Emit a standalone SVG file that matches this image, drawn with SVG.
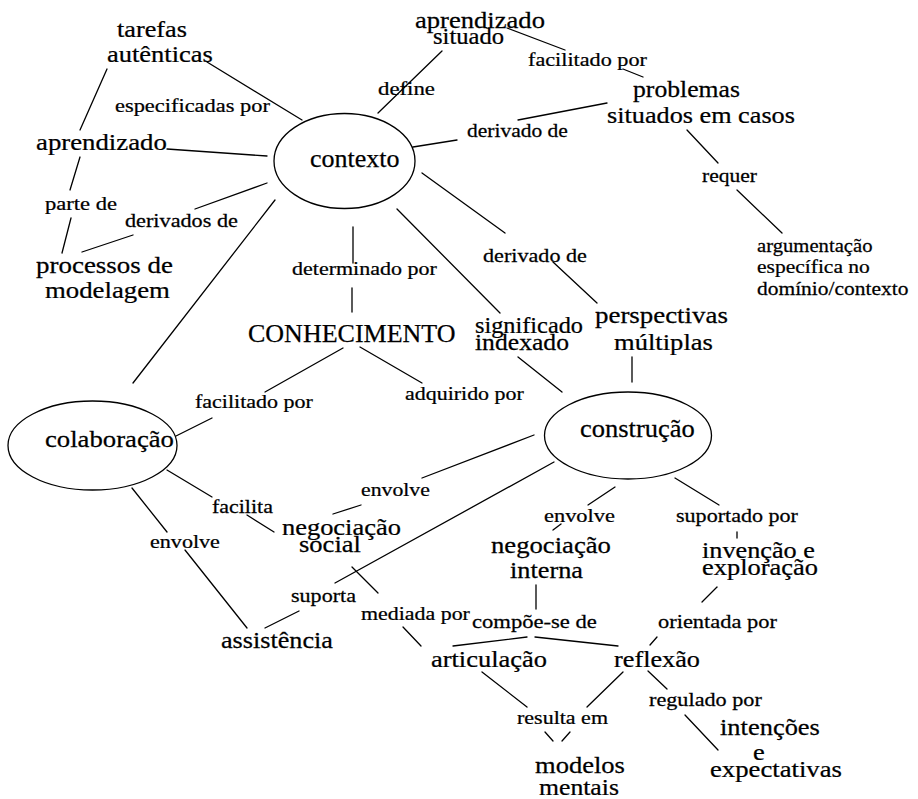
<svg xmlns="http://www.w3.org/2000/svg" width="918" height="799" viewBox="0 0 918 799">
<style>
.c line { stroke: #000; stroke-width: 1.3; stroke-linecap: round; }
ellipse { fill: none; stroke: #000; stroke-width: 1.3; }
text { fill: #000; stroke: #000; stroke-width: 0.25; }
</style>
<rect width="918" height="799" fill="#fff"/>
<g id="connectors" class="c">
<line x1="207" y1="62" x2="302" y2="120"/>
<line x1="107" y1="69" x2="80" y2="130"/>
<line x1="80" y1="157" x2="70" y2="190"/>
<line x1="71" y1="218" x2="62" y2="253"/>
<line x1="167" y1="149" x2="267" y2="156"/>
<line x1="267" y1="183" x2="195" y2="209"/>
<line x1="133" y1="235" x2="82" y2="252"/>
<line x1="275" y1="200" x2="133" y2="383"/>
<line x1="507" y1="28" x2="565" y2="50"/>
<line x1="623" y1="69" x2="643" y2="77"/>
<line x1="442" y1="51" x2="378" y2="113"/>
<line x1="413" y1="147" x2="457" y2="140"/>
<line x1="518" y1="120" x2="607" y2="103"/>
<line x1="422" y1="173" x2="505" y2="233"/>
<line x1="553" y1="262" x2="597" y2="303"/>
<line x1="397" y1="209" x2="500" y2="313"/>
<line x1="353" y1="227" x2="353" y2="263"/>
<line x1="352" y1="288" x2="352" y2="312"/>
<line x1="687" y1="130" x2="718" y2="163"/>
<line x1="737" y1="190" x2="782" y2="233"/>
<line x1="343" y1="348" x2="265" y2="392"/>
<line x1="212" y1="418" x2="176" y2="436"/>
<line x1="167" y1="470" x2="212" y2="497"/>
<line x1="132" y1="488" x2="167" y2="532"/>
<line x1="247" y1="515" x2="274" y2="532"/>
<line x1="185" y1="550" x2="247" y2="628"/>
<line x1="360" y1="347" x2="422" y2="383"/>
<line x1="518" y1="357" x2="562" y2="392"/>
<line x1="534" y1="435" x2="422" y2="478"/>
<line x1="361" y1="505" x2="333" y2="514"/>
<line x1="554" y1="462" x2="335" y2="583"/>
<line x1="299" y1="611" x2="265" y2="628"/>
<line x1="352" y1="567" x2="378" y2="593"/>
<line x1="403" y1="627" x2="421" y2="646"/>
<line x1="632" y1="357" x2="632" y2="382"/>
<line x1="615" y1="487" x2="588" y2="505"/>
<line x1="561" y1="524" x2="553" y2="530"/>
<line x1="675" y1="478" x2="719" y2="505"/>
<line x1="737" y1="532" x2="737" y2="538"/>
<line x1="717" y1="587" x2="702" y2="602"/>
<line x1="657" y1="637" x2="650" y2="645"/>
<line x1="536" y1="585" x2="536" y2="609"/>
<line x1="527" y1="637" x2="453" y2="646"/>
<line x1="535" y1="637" x2="618" y2="646"/>
<line x1="482" y1="672" x2="527" y2="707"/>
<line x1="623" y1="672" x2="587" y2="707"/>
<line x1="545" y1="732" x2="553" y2="741"/>
<line x1="570" y1="732" x2="562" y2="741"/>
<line x1="648" y1="671" x2="667" y2="689"/>
<line x1="685" y1="715" x2="718" y2="750"/>
</g>
<g id="labels">
<text font-family="Liberation Serif" font-size="19" transform="translate(115 112) scale(1.18 1)">especificadas por</text>
<text font-family="Liberation Serif" font-size="19" transform="translate(45 210) scale(1.187 1)">parte de</text>
<text font-family="Liberation Serif" font-size="19" transform="translate(125 227) scale(1.17 1)">derivados de</text>
<text font-family="Liberation Serif" font-size="19" transform="translate(378 95) scale(1.2 1)">define</text>
<text font-family="Liberation Serif" font-size="19" transform="translate(528 66) scale(1.169 1)">facilitado por</text>
<text font-family="Liberation Serif" font-size="19" transform="translate(467 137) scale(1.132 1)">derivado de</text>
<text font-family="Liberation Serif" font-size="19" transform="translate(702 182) scale(1.134 1)">requer</text>
<text font-family="Liberation Serif" font-size="19" transform="translate(483 262) scale(1.166 1)">derivado de</text>
<text font-family="Liberation Serif" font-size="19" transform="translate(292 275) scale(1.159 1)">determinado por</text>
<text font-family="Liberation Serif" font-size="19" transform="translate(195 408) scale(1.159 1)">facilitado por</text>
<text font-family="Liberation Serif" font-size="19" transform="translate(405 400) scale(1.156 1)">adquirido por</text>
<text font-family="Liberation Serif" font-size="19" transform="translate(212 513) scale(1.155 1)">facilita</text>
<text font-family="Liberation Serif" font-size="19" transform="translate(150 548) scale(1.163 1)">envolve</text>
<text font-family="Liberation Serif" font-size="19" transform="translate(361 496) scale(1.146 1)">envolve</text>
<text font-family="Liberation Serif" font-size="19" transform="translate(544 522) scale(1.18 1)">envolve</text>
<text font-family="Liberation Serif" font-size="19" transform="translate(676 522) scale(1.162 1)">suportado por</text>
<text font-family="Liberation Serif" font-size="19" transform="translate(291 602) scale(1.162 1)">suporta</text>
<text font-family="Liberation Serif" font-size="19" transform="translate(361 620) scale(1.154 1)">mediada por</text>
<text font-family="Liberation Serif" font-size="19" transform="translate(472 628) scale(1.19 1)">compõe-se de</text>
<text font-family="Liberation Serif" font-size="19" transform="translate(658 628) scale(1.181 1)">orientada por</text>
<text font-family="Liberation Serif" font-size="19" transform="translate(517 724) scale(1.158 1)">resulta em</text>
<text font-family="Liberation Serif" font-size="19" transform="translate(649 706) scale(1.17 1)">regulado por</text>
</g>
<g id="tarefas-autenticas">
<text font-family="Liberation Serif" font-size="23" transform="translate(117 37) scale(1.142 1)">tarefas</text>
<text font-family="Liberation Serif" font-size="23" transform="translate(107 62) scale(1.152 1)">autênticas</text>
</g>
<g id="aprendizado">
<text font-family="Liberation Serif" font-size="23" transform="translate(36 150) scale(1.165 1)">aprendizado</text>
</g>
<g id="processos-de-modelagem">
<text font-family="Liberation Serif" font-size="23" transform="translate(36 273) scale(1.172 1)">processos de</text>
<text font-family="Liberation Serif" font-size="23" transform="translate(45 298) scale(1.165 1)">modelagem</text>
</g>
<g id="contexto">
<ellipse cx="344.5" cy="161" rx="70.5" ry="47.5"/>
<text font-family="Liberation Serif" font-size="26" x="310" y="167">contexto</text>
</g>
<g id="aprendizado-situado">
<text font-family="Liberation Serif" font-size="23" transform="translate(415 28) scale(1.157 1)">aprendizado</text>
<text font-family="Liberation Serif" font-size="23" transform="translate(433 44) scale(1.069 1)">situado</text>
</g>
<g id="problemas-situados">
<text font-family="Liberation Serif" font-size="23" transform="translate(633 97) scale(1.117 1)">problemas</text>
<text font-family="Liberation Serif" font-size="23" transform="translate(607 123) scale(1.141 1)">situados em casos</text>
</g>
<g id="argumentacao">
<text font-family="Liberation Serif" font-size="19" transform="translate(757 252) scale(1.088 1)">argumentação</text>
<text font-family="Liberation Serif" font-size="19" transform="translate(757 273) scale(1.133 1)">específica no</text>
<text font-family="Liberation Serif" font-size="19" transform="translate(757 295) scale(1.13 1)">domínio/contexto</text>
</g>
<g id="conhecimento">
<text font-family="Liberation Serif" font-size="26" x="248" y="342">CONHECIMENTO</text>
</g>
<g id="significado-indexado">
<text font-family="Liberation Serif" font-size="23" transform="translate(475 333) scale(1.057 1)">significado</text>
<text font-family="Liberation Serif" font-size="23" transform="translate(475 350) scale(1.115 1)">indexado</text>
</g>
<g id="perspectivas-multiplas">
<text font-family="Liberation Serif" font-size="23" transform="translate(595 323) scale(1.17 1)">perspectivas</text>
<text font-family="Liberation Serif" font-size="23" transform="translate(614 350) scale(1.156 1)">múltiplas</text>
</g>
<g id="colaboracao">
<ellipse cx="92.5" cy="445.5" rx="84.5" ry="44.5"/>
<text font-family="Liberation Serif" font-size="24" transform="translate(45 447) scale(1.113 1)">colaboração</text>
</g>
<g id="construcao">
<ellipse cx="628" cy="435.5" rx="83.5" ry="43.5"/>
<text font-family="Liberation Serif" font-size="26" transform="translate(580 437) scale(1.02 1)">construção</text>
</g>
<g id="negociacao-social">
<text font-family="Liberation Serif" font-size="23" transform="translate(282 535) scale(1.15 1)">negociação</text>
<text font-family="Liberation Serif" font-size="23" transform="translate(299 552) scale(1.155 1)">social</text>
</g>
<g id="negociacao-interna">
<text font-family="Liberation Serif" font-size="23" transform="translate(491 553) scale(1.16 1)">negociação</text>
<text font-family="Liberation Serif" font-size="23" transform="translate(510 578) scale(1.143 1)">interna</text>
</g>
<g id="invencao-exploracao">
<text font-family="Liberation Serif" font-size="23" transform="translate(702 558) scale(1.141 1)">invenção e</text>
<text font-family="Liberation Serif" font-size="23" transform="translate(702 575) scale(1.15 1)">exploração</text>
</g>
<g id="assistencia">
<text font-family="Liberation Serif" font-size="23" transform="translate(221 648) scale(1.138 1)">assistência</text>
</g>
<g id="articulacao">
<text font-family="Liberation Serif" font-size="23" transform="translate(431 667) scale(1.15 1)">articulação</text>
</g>
<g id="reflexao">
<text font-family="Liberation Serif" font-size="23" transform="translate(614 667) scale(1.142 1)">reflexão</text>
</g>
<g id="modelos-mentais">
<text font-family="Liberation Serif" font-size="23" transform="translate(535 773) scale(1.155 1)">modelos</text>
<text font-family="Liberation Serif" font-size="23" transform="translate(539 795) scale(1.118 1)">mentais</text>
</g>
<g id="intencoes-expectativas">
<text font-family="Liberation Serif" font-size="23" transform="translate(720 735) scale(1.151 1)">intenções</text>
<text font-family="Liberation Serif" font-size="23" transform="translate(753 760) scale(1.15 1)">e</text>
<text font-family="Liberation Serif" font-size="23" transform="translate(710 777) scale(1.161 1)">expectativas</text>
</g>
</svg>
